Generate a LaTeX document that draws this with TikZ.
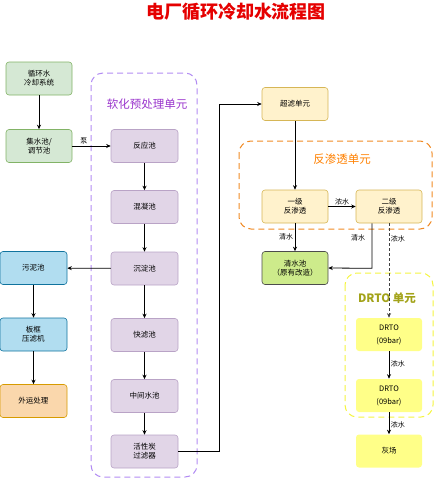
\documentclass[tikz,border=0pt]{standalone}
\usepackage{fontspec}
\setmainfont{Noto Sans CJK SC}
\usetikzlibrary{positioning, arrows.meta}
\definecolor{grfill}{HTML}{D5E8D4}
\definecolor{grline}{HTML}{82B366}
\definecolor{pufill}{HTML}{E1D5E7}
\definecolor{puline}{HTML}{B9A3C6}
\definecolor{blfill}{HTML}{B1DDF0}
\definecolor{blline}{HTML}{10739E}
\definecolor{orfill}{HTML}{FAD7AC}
\definecolor{orline}{HTML}{D79B00}
\definecolor{ylfill}{HTML}{FFF2CC}
\definecolor{ylline}{HTML}{D6B656}
\definecolor{qsfill}{HTML}{CDEB8B}
\definecolor{drfill}{HTML}{FFFF88}
\definecolor{puunit}{HTML}{B28CF2}
\definecolor{putext}{HTML}{9933CC}
\definecolor{orunit}{HTML}{F08A24}
\definecolor{ortext}{HTML}{FF8000}
\definecolor{ylunit}{HTML}{F5F542}
\definecolor{yltext}{HTML}{A3A31A}
\definecolor{titlered}{HTML}{E50000}

\begin{document}
\begin{tikzpicture}[x=1pt, y=-1pt, on grid, >={Stealth[length=4.5pt, width=4pt]},
    box/.style={rectangle, rounded corners=3pt, minimum width=66pt, minimum height=33pt,
      align=center, font=\fontsize{7.5}{9}\selectfont, line width=0.6pt},
    grbox/.style={box, fill=grfill, draw=grline},
    pubox/.style={box, fill=pufill, draw=puline},
    blbox/.style={box, fill=blfill, draw=blline},
    orbox/.style={box, fill=orfill, draw=orline},
    ylbox/.style={box, fill=ylfill, draw=ylline},
    qsbox/.style={box, fill=qsfill, draw=black!70},
    drbox/.style={box, fill=drfill},
    unit/.style={rounded corners=12pt, line width=1pt, dash pattern=on 6pt off 4pt},
    lbl/.style={font=\fontsize{7}{8}\selectfont, inner sep=1.5pt},
    flow/.style={->, line width=0.8pt}]

   \useasboundingbox (0,0) rectangle (435,480);

   % units
   \draw[unit, draw=puunit] (91,73) rectangle (197,477);
   \draw[unit, draw=orunit] (239,141) rectangle (432,229);
   \draw[unit, draw=ylunit] (345,273) rectangle (433,417);

   \node[font=\fontsize{18}{20}\selectfont\bfseries, text=titlered] (title) at (236,12) {电厂循环冷却水流程图};
   \node[font=\fontsize{11.5}{13}\selectfont, text=putext] (puname) at (147,104) {软化预处理单元};
   \node[font=\fontsize{11.5}{13}\selectfont, text=ortext] (orname) at (342,159) {反渗透单元};
   \node[font=\fontsize{11.5}{13}\selectfont\bfseries, text=yltext] (ylname) at (387,298) {DRTO 单元};

   % left column
   \node[grbox] (xhs) at (39,78.5) {循环水\\冷却系统};
   \node[grbox] (jsc) [below=67.5pt of xhs] {集水池/\\调节池};

   % pretreatment
   \node[pubox, minimum width=67pt] (fyc) at (144.5,146) {反应池};
   \node[pubox, minimum width=67pt] (hnc) [below=61pt of fyc] {混凝池};
   \node[pubox, minimum width=67pt] (cdc) [below=61.5pt of hnc] {沉淀池};
   \node[pubox, minimum width=67pt] (klc) [below=66.5pt of cdc] {快滤池};
   \node[pubox, minimum width=67pt] (zjc) [below=61pt of klc] {中间水池};
   \node[pubox, minimum width=67pt] (hxt) [below=55.5pt of zjc] {活性炭\\过滤器};

   % sludge
   \node[blbox, minimum width=67pt] (wnc) at (33.5,268) {污泥池};
   \node[blbox, minimum width=67pt] (bkj) [below=66.5pt of wnc] {板框\\压滤机};
   \node[orbox, minimum width=67pt] (wyc) [below=66.5pt of bkj] {外运处理};

   % membranes
   \node[ylbox] (clb) at (295,104) {超滤单元};
   \node[ylbox] (yj) [below=102.5pt of clb] {一级\\反渗透};
   \node[ylbox] (ej) [right=94pt of yj] {二级\\反渗透};
   \node[qsbox] (qsc) [below=61.5pt of yj] {清水池\\（原有改造）};

   % DRTO
   \node[drbox] (dr1) at (389,334.5) {DRTO\\[4pt](09bar)};
   \node[drbox] (dr2) [below=61pt of dr1] {DRTO\\[4pt](09bar)};
   \node[drbox] (hc) [below=55.5pt of dr2] {灰场};

   \coordinate (up) at (219,104);

   \path[flow]
    (xhs) edge (jsc)
    (jsc) edge node[lbl, above, pos=0.3] {泵} (fyc)
    (fyc) edge (hnc)
    (hnc) edge (cdc)
    (cdc) edge (klc)
          edge (wnc)
    (klc) edge (zjc)
    (zjc) edge (hxt)
    (wnc) edge (bkj)
    (bkj) edge (wyc)
    (clb) edge (yj)
    (yj)  edge node[lbl, above] {浓水} (ej)
          edge node[lbl, left, pos=0.5] {清水} (qsc)
    (dr1) edge node[lbl, right, pos=0.45] {浓水} (dr2)
    (dr2) edge node[lbl, right, pos=0.55] {浓水} (hc);

   \draw[flow] (hxt.east) -| (up) -- (clb.west);
   \draw[flow] ([xshift=-17pt]ej.south) -- ++(0,45) node[lbl, left, pos=0.33, xshift=-5pt] {清水} -- (qsc.east);
   \draw[flow, densely dashed, draw=black!75] (ej.south) -- node[lbl, right, pos=0.16] {浓水} (dr1.north);
\end{tikzpicture}
\end{document}
